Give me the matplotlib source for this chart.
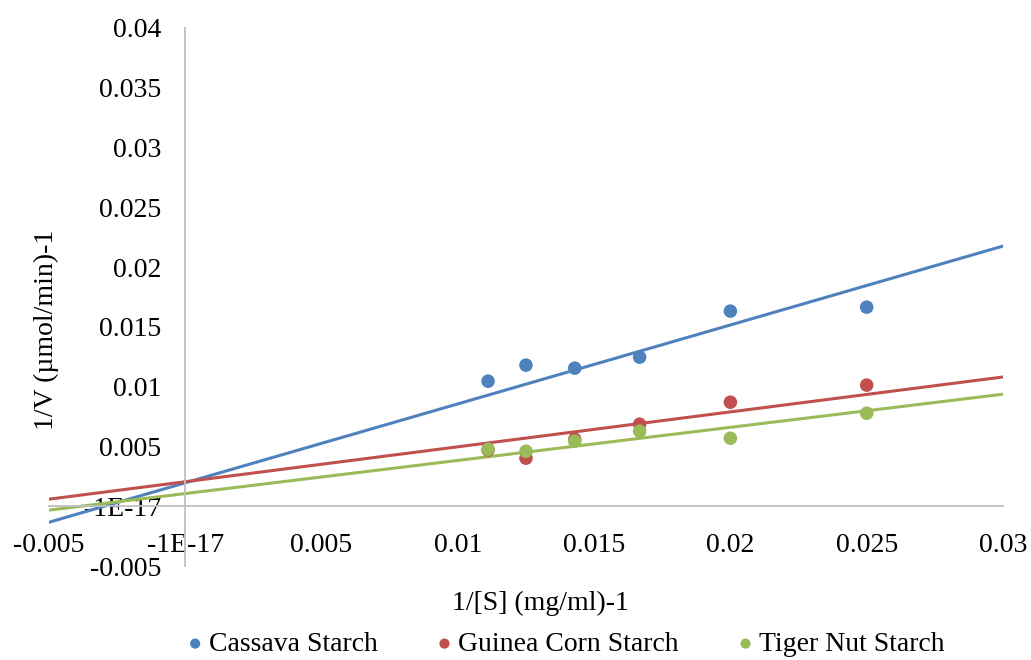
import numpy as np
import matplotlib
matplotlib.use('Agg')
import matplotlib.pyplot as plt

plt.rcParams['font.family'] = ['Liberation Serif', 'DejaVu Serif']

# 1/[S] values (substrate 90..40 mg/ml)
inv_s = [0.01111, 0.0125, 0.01429, 0.01667, 0.02, 0.025]
cassava = [0.01046, 0.0118, 0.01155, 0.01247, 0.01632, 0.01665]
guinea_corn = [0.0047, 0.00402, 0.0056, 0.00686, 0.0087, 0.01013]
tiger_nut = [0.00477, 0.0046, 0.00544, 0.00628, 0.00569, 0.00778]

# trendlines as shown on the chart (slope, intercept)
trend_slope = [0.660, 0.292, 0.277]
trend_intercept = [0.00196, 0.00205, 0.00106]

series_names = ['Cassava Starch', 'Guinea Corn Starch', 'Tiger Nut Starch']
colours = ['#4F81BD', '#C0504D', '#9BBB59']

x_ticks = [-0.005, 0, 0.005, 0.01, 0.015, 0.02, 0.025, 0.03]
x_labels = ['-0.005', '-1E-17', '0.005', '0.01', '0.015', '0.02', '0.025', '0.03']
y_ticks = [-0.005, 0, 0.005, 0.01, 0.015, 0.02, 0.025, 0.03, 0.035, 0.04]
y_labels = ['-0.005', '-1E-17', '0.005', '0.01', '0.015', '0.02', '0.025', '0.03', '0.035', '0.04']

fig = plt.figure(figsize=(10.31, 6.60), dpi=100)
ax = fig.add_axes([0.0475, 0.1424, 0.9253, 0.8152])

x_line = np.array([-0.005, 0.03])
all_series = [cassava, guinea_corn, tiger_nut]
for i in range(3):
    ax.scatter(inv_s, all_series[i], s=95, color=colours[i], label=series_names[i],
               zorder=3, edgecolors='none')
    ax.plot(x_line, trend_slope[i] * x_line + trend_intercept[i], color=colours[i],
            lw=2.2, zorder=2)

ax.set_xlim(-0.005, 0.03)
ax.set_ylim(-0.005, 0.04)

for side in ['top', 'right']:
    ax.spines[side].set_visible(False)
ax.spines['left'].set_position(('data', 0))
ax.spines['bottom'].set_position(('data', 0))
for side in ['left', 'bottom']:
    ax.spines[side].set_color('#bfbfbf')
    ax.spines[side].set_linewidth(1.3)

ax.set_xticks(x_ticks)
ax.set_xticklabels(x_labels)
ax.set_yticks(y_ticks)
ax.set_yticklabels(y_labels)
ax.tick_params(axis='both', length=0, labelsize=20)
ax.tick_params(axis='x', pad=19)
ax.tick_params(axis='y', pad=17.5)

fig.text(0.0446, 0.5, '1/V (µmol/min)-1', rotation=90, ha='center', va='center', fontsize=20)
fig.text(0.524, 0.0864, '1/[S] (mg/ml)-1', ha='center', va='center', fontsize=20)

fig.legend(loc='center', bbox_to_anchor=(0.5475, 0.024), ncol=3, frameon=False,
           fontsize=20, handlelength=0.8, handletextpad=0.1, columnspacing=2.0,
           markerscale=0.75, borderpad=0.1)

fig.savefig('out.png', dpi=100)
